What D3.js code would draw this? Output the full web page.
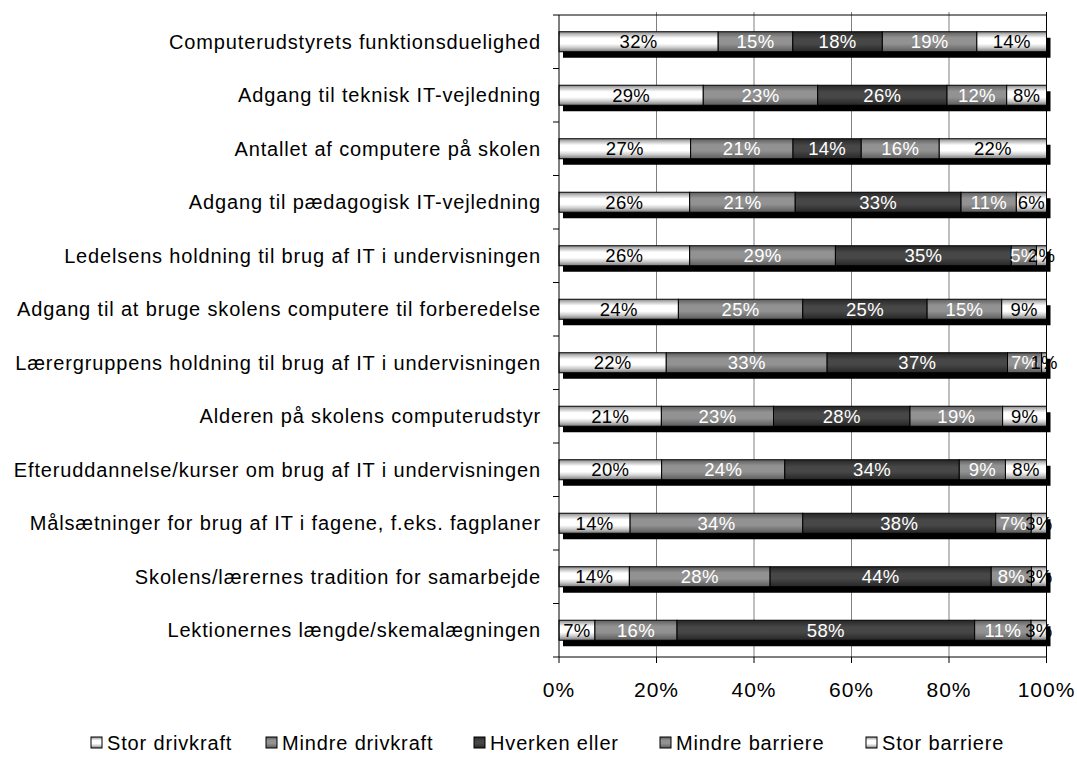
<!DOCTYPE html>
<html><head><meta charset="utf-8">
<script src="https://cdn.jsdelivr.net/npm/d3@7"></script>
<style>body{margin:0;background:#fff}svg{display:block;font-family:"Liberation Sans",Arial,sans-serif}</style>
</head><body><svg id="c" width="1077" height="764"></svg>
<script>
const categories = [
  "Computerudstyrets funktionsduelighed",
  "Adgang til teknisk IT-vejledning",
  "Antallet af computere på skolen",
  "Adgang til pædagogisk IT-vejledning",
  "Ledelsens holdning til brug af IT i undervisningen",
  "Adgang til at bruge skolens computere til forberedelse",
  "Lærergruppens holdning til brug af IT i undervisningen",
  "Alderen på skolens computerudstyr",
  "Efteruddannelse/kurser om brug af IT i undervisningen",
  "Målsætninger for brug af IT i fagene, f.eks. fagplaner",
  "Skolens/lærernes tradition for samarbejde",
  "Lektionernes længde/skemalægningen"
];
const seriesNames = ["Stor drivkraft","Mindre drivkraft","Hverken eller","Mindre barriere","Stor barriere"];
const storDrivkraft   = [32,29,27,26,26,24,22,21,20,14,14,7];
const mindreDrivkraft = [15,23,21,21,29,25,33,23,24,34,28,16];
const hverkenEller    = [18,26,14,33,35,25,37,28,34,38,44,58];
const mindreBarriere  = [19,12,16,11,5,15,7,19,9,7,8,11];
const storBarriere    = [14,8,22,6,2,9,1,9,8,3,3,3];
const tickValues = [0,0.2,0.4,0.6,0.8,1];
const tickLabels = ["0%","20%","40%","60%","80%","100%"];

const seriesArrays = [storDrivkraft,mindreDrivkraft,hverkenEller,mindreBarriere,storBarriere];
const rows = categories.map((c,i)=>{const o={cat:c};seriesNames.forEach((s,j)=>o[s]=seriesArrays[j][i]);return o;});
const stacked = d3.stack().keys(seriesNames).offset(d3.stackOffsetExpand)(rows);

const svg = d3.select("#c");
const L=559, R=1046.5, T=15, B=657;
const x = d3.scaleLinear().domain([0,1]).range([L,R]);
const y = d3.scaleBand().domain(categories).range([T,B]).paddingInner(0.626).paddingOuter(0.313);

const defs = svg.append("defs");
function grad(id, stops){
  const g = defs.append("linearGradient").attr("id",id).attr("x1",0).attr("y1",0).attr("x2",0).attr("y2",1);
  stops.forEach(s=>g.append("stop").attr("offset",s[0]).attr("stop-color",s[1]));
}
grad("gWhite",[[0,"#8a8a8a"],[0.15,"#c4c4c4"],[0.32,"#ffffff"],[0.6,"#ffffff"],[0.78,"#cfcfcf"],[0.9,"#a0a0a0"],[1,"#7a7a7a"]]);
grad("gMid",[[0,"#5e5e5e"],[0.3,"#929292"],[0.6,"#929292"],[1,"#5c5c5c"]]);
grad("gDark",[[0,"#262626"],[0.35,"#474747"],[0.6,"#474747"],[1,"#262626"]]);
const fills = ["url(#gWhite)","url(#gMid)","url(#gDark)","url(#gMid)","url(#gWhite)"];
const textCols = ["#000","#fff","#fff","#fff","#000"];

// gridlines
svg.append("g").selectAll("line").data(tickValues.slice(1,-1)).join("line")
  .attr("x1",d=>x(d)).attr("x2",d=>x(d)).attr("y1",T-3).attr("y2",B)
  .attr("stroke","#808080").attr("stroke-width",1);

// shadows
svg.append("g").selectAll("rect").data(categories).join("rect")
  .attr("x",x(0)+4).attr("y",d=>y(d)+6).attr("width",x(1)-x(0)).attr("height",y.bandwidth())
  .attr("fill","#000");

// bars
const sg = svg.append("g").selectAll("g").data(stacked).join("g")
  .attr("fill",(d,i)=>fills[i]);
sg.selectAll("rect").data(d=>d).join("rect")
  .attr("x",d=>x(d[0])).attr("y",d=>y(d.data.cat))
  .attr("width",d=>x(d[1])-x(d[0])).attr("height",y.bandwidth())
  .attr("stroke","#000").attr("stroke-width",1);

// borders
svg.append("line").attr("x1",L).attr("x2",R).attr("y1",T).attr("y2",T).attr("stroke","#000");
svg.append("line").attr("x1",R).attr("x2",R).attr("y1",T-3).attr("y2",B).attr("stroke","#000");

// labels
stacked.forEach((s,i)=>{
  svg.append("g").selectAll("text").data(s).join("text")
    .attr("x",d=>(x(d[0])+x(d[1]))/2).attr("y",d=>y(d.data.cat)+y.bandwidth()/2+6.5)
    .attr("text-anchor","middle").attr("font-size",18.5).attr("letter-spacing",0.3).attr("fill",textCols[i])
    .text(d=>d.data[s.key]+"%");
});

// left axis
svg.append("line").attr("x1",L).attr("x2",L).attr("y1",T).attr("y2",B).attr("stroke","#000");
const bounds = d3.range(categories.length+1).map(i=>T+i*y.step());
svg.append("g").selectAll("line").data(bounds).join("line")
  .attr("x1",L-6).attr("x2",L).attr("y1",d=>d).attr("y2",d=>d).attr("stroke","#000");
svg.append("g").selectAll("text").data(categories).join("text")
  .attr("x",541).attr("y",d=>y(d)+y.bandwidth()/2+7).attr("text-anchor","end")
  .attr("font-size",20).attr("letter-spacing",0.85).attr("fill","#000").text(d=>d);

// bottom axis
svg.append("line").attr("x1",L).attr("x2",R).attr("y1",B).attr("y2",B).attr("stroke","#000");
svg.append("g").selectAll("line").data(tickValues).join("line")
  .attr("x1",d=>x(d)).attr("x2",d=>x(d)).attr("y1",B).attr("y2",B+6).attr("stroke","#000");
svg.append("g").selectAll("text").data(tickValues).join("text")
  .attr("x",d=>x(d)).attr("y",697).attr("text-anchor","middle").attr("font-size",21).attr("letter-spacing",1)
  .text((d,i)=>tickLabels[i]);

// legend
const legX = [91,266,474,660,866];
const lg = svg.append("g").selectAll("g").data(seriesNames).join("g")
  .attr("transform",(d,i)=>`translate(${legX[i]},742)`);
lg.append("rect").attr("x",0).attr("y",-5).attr("width",11).attr("height",11)
  .attr("fill",(d,i)=>fills[i]).attr("stroke","#000");
lg.append("text").attr("x",16).attr("y",7.5).attr("font-size",20).attr("letter-spacing",0.85).text(d=>d);
</script></body></html>
